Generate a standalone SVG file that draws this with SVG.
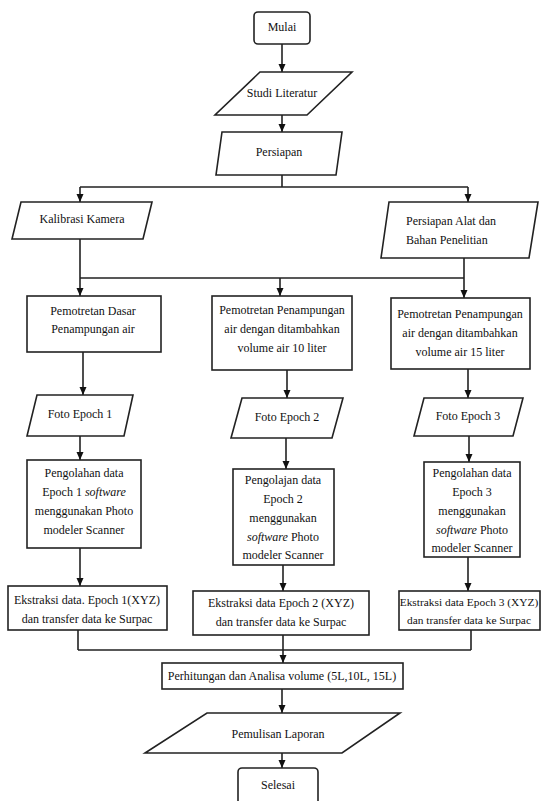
<svg xmlns="http://www.w3.org/2000/svg" width="542" height="801" viewBox="0 0 542 801">
<defs>
<marker id="arr" markerUnits="userSpaceOnUse" markerWidth="8" markerHeight="8" refX="8" refY="4" orient="auto">
<path d="M0,0.5 L8,4 L0,7.5 z" fill="#111"/>
</marker>
<style>
.s{fill:#fff;stroke:#222;stroke-width:1.6}
.c{fill:none;stroke:#222;stroke-width:1.6}
.a{marker-end:url(#arr)}
text{font-family:"Liberation Serif","Times New Roman",serif;font-size:12px;fill:#111;text-anchor:middle;dominant-baseline:central}
.l{text-anchor:start}
.i{font-style:italic}
.n{font-size:11.4px}
</style>
</defs>
<rect width="542" height="801" fill="#fff"/>
<g id="connectors">
<path class="c a" d="M282,44 V72"/>
<path class="c a" d="M282,115 V132"/>
<path class="c" d="M282,175 V187 M80,187 H468"/>
<path class="c a" d="M80,187 V202"/>
<path class="c a" d="M468,187 V202"/>
<path class="c" d="M80,239 V278 M464,258 V278 M80,278 H464"/>
<path class="c a" d="M80,278 V296"/>
<path class="c a" d="M280,278 V296"/>
<path class="c a" d="M464,278 V298"/>
<path class="c a" d="M83,352 V395"/>
<path class="c a" d="M287,370 V398"/>
<path class="c a" d="M468,369 V398"/>
<path class="c a" d="M80,436 V460"/>
<path class="c a" d="M286,438 V469"/>
<path class="c a" d="M469,436 V462"/>
<path class="c a" d="M80,548 V586"/>
<path class="c a" d="M283,565 V591"/>
<path class="c a" d="M468,557 V591"/>
<path class="c" d="M78,630 V650 M471,630 V650 M78,650 H471"/>
<path class="c a" d="M283,635 V663"/>
<path class="c a" d="M282,689 V713"/>
<path class="c a" d="M282,753 V768"/>
</g>
<g id="mulai">
<rect class="s" x="254" y="12" width="56" height="32" rx="4"/>
<text x="282" y="27">Mulai</text>
</g>
<g id="studi-literatur">
<polygon class="s" points="260,72 352,72 307,115 215,115"/>
<text x="282" y="93">Studi Literatur</text>
</g>
<g id="persiapan">
<polygon class="s" points="222,132 342,132 336,175 216,175"/>
<text x="279" y="152">Persiapan</text>
</g>
<g id="kalibrasi-kamera">
<polygon class="s" points="21,202 152,202 143,239 12,239"/>
<text x="82" y="219">Kalibrasi Kamera</text>
</g>
<g id="persiapan-alat">
<polygon class="s" points="389,202 538,202 529,258 381,258"/>
<text class="l" x="406" y="221">Persiapan Alat dan</text>
<text class="l" x="406" y="240">Bahan Penelitian</text>
</g>
<g id="pemotretan-dasar">
<rect class="s" x="27" y="296" width="134" height="56"/>
<text x="93" y="311">Pemotretan Dasar</text>
<text x="93" y="329">Penampungan air</text>
</g>
<g id="pemotretan-10">
<rect class="s" x="212" y="296" width="140" height="74"/>
<text x="282" y="310">Pemotretan Penampungan</text>
<text x="282" y="329">air dengan ditambahkan</text>
<text x="282" y="348">volume air 10 liter</text>
</g>
<g id="pemotretan-15">
<rect class="s" x="391" y="298" width="139" height="71"/>
<text x="460" y="314">Pemotretan Penampungan</text>
<text x="460" y="333">air dengan ditambahkan</text>
<text x="460" y="352">volume air 15 liter</text>
</g>
<g id="foto-epoch-1">
<polygon class="s" points="37,395 133,395 124,436 27,436"/>
<text x="80" y="414">Foto Epoch 1</text>
</g>
<g id="foto-epoch-2">
<polygon class="s" points="242,398 343,398 332,438 231,438"/>
<text x="287" y="417">Foto Epoch 2</text>
</g>
<g id="foto-epoch-3">
<polygon class="s" points="424,398 523,398 513,436 414,436"/>
<text x="468" y="416">Foto Epoch 3</text>
</g>
<g id="pengolahan-1">
<rect class="s" x="27" y="460" width="114" height="88"/>
<text x="84" y="473">Pengolahan data</text>
<text x="84" y="492">Epoch 1 <tspan class="i">software</tspan></text>
<text x="84" y="511">menggunakan Photo</text>
<text x="84" y="530">modeler Scanner</text>
</g>
<g id="pengolahan-2">
<rect class="s" x="233" y="469" width="101" height="96"/>
<text x="283" y="480">Pengolajan data</text>
<text x="283" y="499">Epoch 2</text>
<text x="283" y="518">menggunakan</text>
<text x="283" y="537"><tspan class="i">software</tspan> Photo</text>
<text x="283" y="555">modeler Scanner</text>
</g>
<g id="pengolahan-3">
<rect class="s" x="424" y="462" width="96" height="95"/>
<text x="472" y="473">Pengolahan data</text>
<text x="472" y="492">Epoch 3</text>
<text x="472" y="511">menggunakan</text>
<text x="472" y="530"><tspan class="i">software</tspan> Photo</text>
<text x="472" y="548">modeler Scanner</text>
</g>
<g id="ekstraksi-1">
<rect class="s" x="8" y="586" width="159" height="44"/>
<text x="87" y="600">Ekstraksi data. Epoch 1(XYZ)</text>
<text x="87" y="619">dan transfer data ke Surpac</text>
</g>
<g id="ekstraksi-2">
<rect class="s" x="193" y="591" width="176" height="44"/>
<text x="281" y="603">Ekstraksi data Epoch 2 (XYZ)</text>
<text x="281" y="622">dan transfer data ke Surpac</text>
</g>
<g id="ekstraksi-3">
<rect class="s" x="399" y="591" width="141" height="39"/>
<text class="n" x="469" y="602">Ekstraksi data Epoch 3 (XYZ)</text>
<text class="n" x="469" y="620">dan transfer data ke Surpac</text>
</g>
<g id="perhitungan">
<rect class="s" x="162" y="663" width="241" height="26"/>
<text x="282" y="676">Perhitungan dan Analisa volume (5L,10L, 15L)</text>
</g>
<g id="penulisan-laporan">
<polygon class="s" points="207,713 400,713 342,753 145,753"/>
<text x="278" y="734">Pemulisan Laporan</text>
</g>
<g id="selesai">
<rect class="s" x="238" y="768" width="80" height="40" rx="4"/>
<text x="278" y="785">Selesai</text>
</g>
</svg>
